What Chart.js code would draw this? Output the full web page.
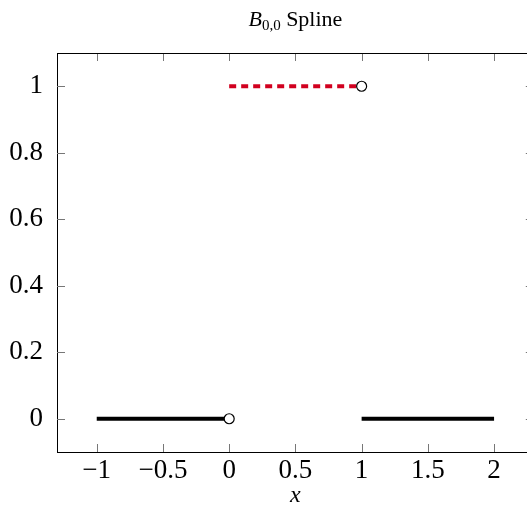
<!DOCTYPE html>
<html>
<head>
<meta charset="utf-8">
<script src="https://cdn.jsdelivr.net/npm/chart.js@4.4.1/dist/chart.umd.min.js"></script>
<style>
  html, body { margin: 0; padding: 0; background: #fff; overflow: hidden; }
  #wrap { width: 540px; height: 511px; }
</style>
</head>
<body>
<div id="wrap"><canvas id="chart"></canvas></div>
<script>
// данные графика
const xTicks = [-1, -0.5, 0, 0.5, 1, 1.5, 2];
const yTicks = [0, 0.2, 0.4, 0.6, 0.8, 1];
const leftX = [-1, 0];
const leftY = [0, 0];
const midX = [0, 1];
const midY = [1, 1];
const rightX = [1, 2];
const rightY = [0, 0];
const openX = [0, 1];
const openY = [0, 1];

const toPts = (xs, ys) => xs.map((x, i) => ({ x: x, y: ys[i] }));
const fmt = v => String(v).replace('-', '\u2212');
const SERIF = '"Liberation Serif", "DejaVu Serif", serif';

// заголовок, подпись оси, верхняя рамка и внутренние засечки
const decor = {
  id: 'decor',
  afterDraw(chart) {
    const ctx = chart.ctx;
    const a = chart.chartArea;
    const xs = chart.scales.x, ys = chart.scales.y;
    ctx.save();
    ctx.strokeStyle = '#777';
    ctx.lineWidth = 1;
    ctx.beginPath();
    xTicks.forEach(v => {
      const px = Math.round(xs.getPixelForValue(v)) + 0.5;
      ctx.moveTo(px, a.bottom); ctx.lineTo(px, a.bottom - 8);
      ctx.moveTo(px, a.top); ctx.lineTo(px, a.top + 8);
    });
    yTicks.forEach(v => {
      const py = Math.round(ys.getPixelForValue(v)) + 0.5;
      ctx.moveTo(a.left, py); ctx.lineTo(a.left + 8, py);
      ctx.moveTo(a.right, py); ctx.lineTo(a.right - 8, py);
    });
    ctx.stroke();
    ctx.strokeStyle = '#000';
    ctx.beginPath();
    ctx.moveTo(a.left, Math.round(a.top) + 0.5);
    ctx.lineTo(a.right, Math.round(a.top) + 0.5);
    ctx.moveTo(Math.round(a.right) + 0.5, a.top);
    ctx.lineTo(Math.round(a.right) + 0.5, a.bottom);
    ctx.stroke();

    const cx = (a.left + a.right) / 2;
    ctx.fillStyle = '#000';
    ctx.textBaseline = 'alphabetic';
    // B_{0,0} Spline
    const fB = 'italic 22px ' + SERIF, fSub = '15px ' + SERIF, fT = '22px ' + SERIF;
    ctx.font = fB; const wB = ctx.measureText('B').width;
    ctx.font = fSub; const wS = ctx.measureText('0,0').width;
    ctx.font = fT; const wT = ctx.measureText(' Spline').width;
    let x0 = cx - (wB + wS + wT) / 2;
    const base = 26;
    ctx.textAlign = 'left';
    ctx.font = fB; ctx.fillText('B', x0, base); x0 += wB;
    ctx.font = fSub; ctx.fillText('0,0', x0, base + 4); x0 += wS;
    ctx.font = fT; ctx.fillText(' Spline', x0, base);
    // x
    ctx.textAlign = 'center';
    ctx.font = 'italic 24px ' + SERIF;
    ctx.fillText('x', cx, 502);
    ctx.restore();
  }
};

const lineStyle = {
  showLine: true,
  pointRadius: 0,
  borderWidth: 4,
  fill: false
};

new Chart(document.getElementById('chart'), {
  type: 'scatter',
  data: {
    datasets: [
      {
        data: toPts(openX, openY),
        showLine: false,
        pointRadius: 5,
        pointBorderWidth: 1.2,
        pointBorderColor: '#000',
        pointBackgroundColor: '#fff'
      },
      { ...lineStyle, data: toPts(leftX, leftY), borderColor: '#000' },
      { ...lineStyle, data: toPts(rightX, rightY), borderColor: '#000' },
      { ...lineStyle, data: toPts(midX, midY), borderColor: '#d1001f', borderDash: [7, 5] }
    ]
  },
  options: {
    responsive: true,
    maintainAspectRatio: false,
    animation: false,
    layout: { padding: { top: 53, right: 6, left: 0, bottom: 0 } },
    plugins: { legend: { display: false }, tooltip: { enabled: false }, title: { display: false } },
    scales: {
      x: {
        type: 'linear',
        min: -1.3,
        max: 2.3,
        afterBuildTicks: s => { s.ticks = xTicks.map(v => ({ value: v })); },
        afterFit: s => { s.height = 59; },
        grid: { display: true, drawOnChartArea: false, drawTicks: false },
        border: { display: true, color: '#000', width: 1 },
        ticks: {
          color: '#000',
          padding: 3,
          maxRotation: 0,
          font: { family: SERIF, size: 27 },
          callback: v => fmt(v)
        }
      },
      y: {
        type: 'linear',
        min: -0.1,
        max: 1.1,
        afterBuildTicks: s => { s.ticks = yTicks.map(v => ({ value: v })); },
        afterFit: s => { s.width = 57; },
        grid: { display: true, drawOnChartArea: false, drawTicks: false },
        border: { display: true, color: '#000', width: 1 },
        ticks: {
          color: '#000',
          padding: 14,
          font: { family: SERIF, size: 27 },
          callback: v => fmt(v)
        }
      }
    }
  },
  plugins: [decor]
});
</script>
</body>
</html>
